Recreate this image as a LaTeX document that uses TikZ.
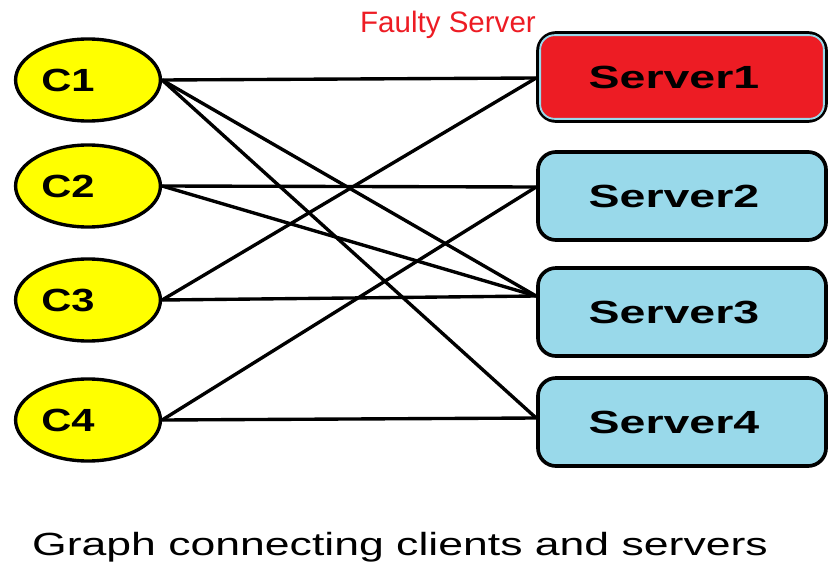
\documentclass[tikz,border=0pt]{standalone}
\usepackage{fontspec}
\setmainfont{Liberation Sans}
\usepackage{graphicx}
\usetikzlibrary{shapes.geometric}
\definecolor{clientyellow}{HTML}{FFFF00}
\definecolor{serverblue}{HTML}{99D9EA}
\definecolor{faultred}{HTML}{ED1C24}
\newcommand{\wide}[2][1.42]{\scalebox{#1}[1]{#2}}
\tikzset{
	client/.style={ellipse,draw=black,line width=2.4pt,fill=clientyellow,
		minimum width=3.62cm,minimum height=2.05cm,inner sep=0pt,
		font=\bfseries\fontsize{22.8}{26}\selectfont},
	server/.style={rectangle,draw=black,line width=2.6pt,rounded corners=.45cm,
		minimum width=7.2cm,minimum height=2.2cm,inner sep=0pt,
		font=\bfseries\fontsize{22.8}{26}\selectfont},
	link/.style={line width=2.4pt,black}
}
\begin{document}
\begin{tikzpicture}[x=0.025cm,y=-0.025cm]
		\useasboundingbox (0,0) rectangle (829,565);
		%clients
			\foreach \i/\y in {1/80,2/186,3/300,4/420}{
				\node[client] (c\i) at (88,\y) {\wide[1.3]{C\i}\rule{1cm}{0pt}};
				}
		% servers
			\foreach \i/\y/\col in {1/77/faultred,2/196/serverblue,3/312/serverblue,4/422/serverblue}{
				\node[server,fill=\col] (s\i) at (682,\y) {\wide[1.45]{Server\i}\rule{.4cm}{0pt}};
				}
			\draw[serverblue,line width=1.3pt,rounded corners=.36cm] ([shift={(4,4)}]s1.north west) rectangle ([shift={(-4,-4)}]s1.south east);
			\node[text=faultred,font=\fontsize{21}{24}\selectfont] (faulty) at (448,25) {Faulty Server};
		% ports on the servers
			\foreach \i/\d in {1/-1,2/9,3/16,4/4}{
				\coordinate (p\i) at ([yshift={\d*0.025cm}]s\i.west);
				}
		% links
			\foreach \a/\b in {1/1,1/3,1/4,2/2,2/3,3/1,3/3,4/2,4/4}{
				\draw[link] (c\a.east) -- (p\b);
				}
		% caption
			\node[anchor=base,font=\fontsize{22.8}{26}\selectfont] (caption) at (400,555) {\wide[1.39]{Graph connecting clients and servers}};
	\end{tikzpicture}
\end{document}
